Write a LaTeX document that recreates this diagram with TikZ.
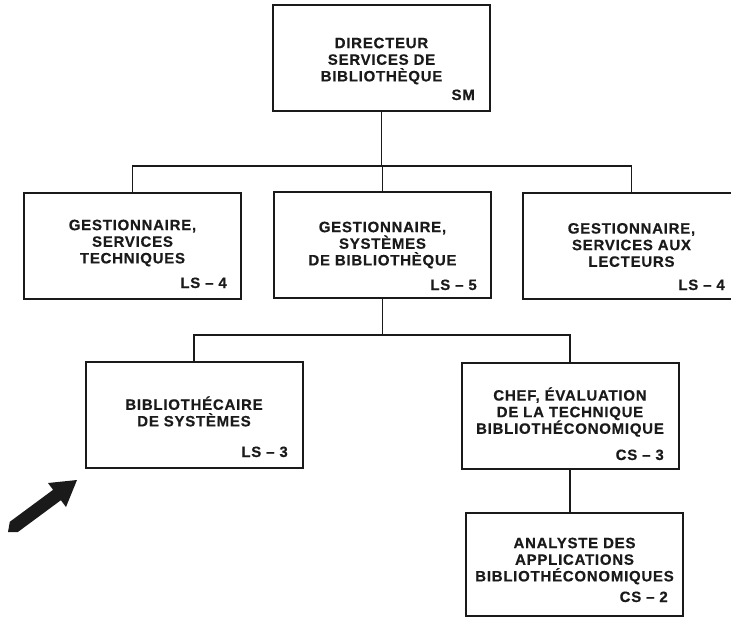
\documentclass[tikz,border=0pt]{standalone}
\usepackage{fontspec}
\newfontfamily\orgfont[LetterSpace=5, FakeBold=0.5]{Liberation Sans Bold}
\definecolor{ink}{HTML}{1A1A1A}
\tikzset{
  orgbox/.style={draw=ink, line width=2pt, minimum width=217pt, minimum height=106pt, inner sep=0pt},
  title/.style={font=\orgfont\fontsize{15}{16.6}\selectfont, text=ink, align=center, inner sep=0pt},
  grade/.style={font=\orgfont\fontsize{15}{16.6}\selectfont, text=ink, anchor=base east, inner sep=0pt},
  link/.style={draw=ink, line width=1.6pt},
}
\begin{document}
\begin{tikzpicture}[x=1pt, y=-1pt]
  \useasboundingbox (0,0) rectangle (731,619);
  \clip (0,0) rectangle (731,619);

  % boxes
  \node[orgbox] (dir)  at (381.5,58)    {};
  \node[orgbox] (gst)  at (132.5,245.5) {};
  \node[orgbox] (gsb)  at (382.5,245)   {};
  \node[orgbox] (gsl)  at (631.5,245.5) {};
  \node[orgbox] (bsys) at (194,415)     {};
  \node[orgbox] (chef) at (570,415.5)   {};
  \node[orgbox, minimum height=103pt] (anal) at (574.5,564.5) {};

  % titles
  \node[title] (dirT)  at (381.5,61)  {DIRECTEUR\\SERVICES DE\\BIBLIOTHÈQUE};
  \node[title] (gstT)  at (132.5,243) {GESTIONNAIRE,\\SERVICES\\TECHNIQUES};
  \node[title] (gsbT)  at (382.5,245) {GESTIONNAIRE,\\SYSTÈMES\\DE BIBLIOTHÈQUE};
  \node[title] (gslT)  at (631.5,245) {GESTIONNAIRE,\\SERVICES AUX\\LECTEURS};
  \node[title] (bsysT) at (194,411.5) {BIBLIOTHÉCAIRE\\DE SYSTÈMES};
  \node[title] (chefT) at (570,412)   {CHEF, ÉVALUATION\\DE LA TECHNIQUE\\BIBLIOTHÉCONOMIQUE};
  \node[title] (analT) at (574.5,561) {ANALYSTE DES\\APPLICATIONS\\BIBLIOTHÉCONOMIQUES};

  % grades
  \node[grade] (dirG)  at (475,100) {SM};
  \node[grade] (gstG)  at (227,288) {LS – 4};
  \node[grade] (gsbG)  at (477,290) {LS – 5};
  \node[grade] (gslG)  at (725,290) {LS – 4};
  \node[grade] (bsysG) at (288,457) {LS – 3};
  \node[grade] (chefG) at (664,460) {CS – 3};
  \node[grade] (analG) at (668,602) {CS – 2};

  % connectors
  \coordinate (busA) at (382,166);
  \coordinate (busB) at (383,335);
  \draw[link] (dir.south) -- (dir.south |- busA);
  \draw[link] (gst.north) |- (busA) -| (gsl.north);
  \draw[link] (gsb.north) -- (gsb.north |- busA);
  \draw[link] (gsb.south) -- (gsb.south |- busB);
  \draw[link] (bsys.north) |- (busB) -| (chef.north);
  \draw[link] (chef.south) -- (chef.south |- anal.north);

  % pointer arrow
  \fill[ink] (77,480) -- (66,507) -- (60.9,500.2) -- (17.6,532.2)
    -- (8,532) -- (9.8,521.8) -- (53.1,489.8) -- (48,483) -- cycle;
\end{tikzpicture}
\end{document}
